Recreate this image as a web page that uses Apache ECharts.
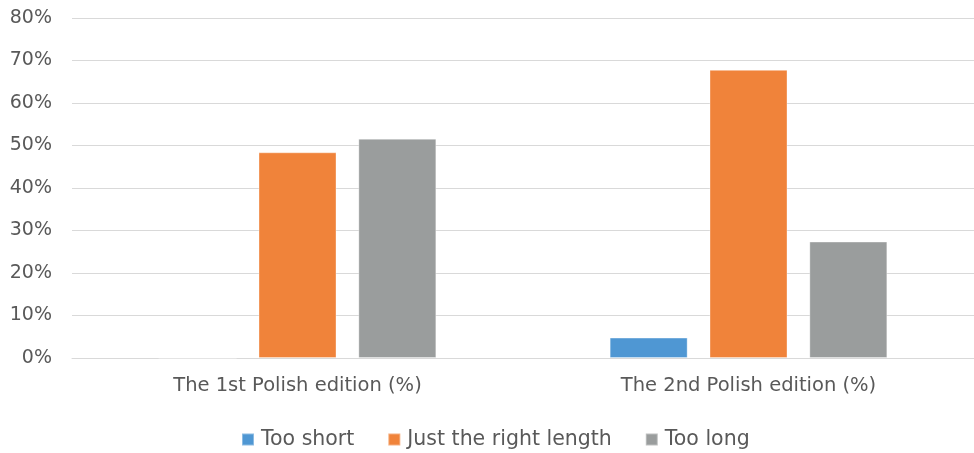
<!DOCTYPE html>
<html>
<head>
<meta charset="utf-8">
<script src="https://cdn.jsdelivr.net/npm/echarts@6/dist/echarts.min.js"></script>
<style>
  html, body { margin: 0; padding: 0; background: #fff; }
  #chart { width: 974px; height: 453px; }
</style>
</head>
<body>
<div id="chart"></div>
<script>
// Survey results: perceived length of each Polish edition
const categories = ['The 1st Polish edition (%)', 'The 2nd Polish edition (%)'];
const seriesNames = ['Too short', 'Just the right length', 'Too long'];
const tooShort = [0, 4.8];
const justRight = [48.4, 67.8];
const tooLong = [51.6, 27.4];
const yTicks = [0, 10, 20, 30, 40, 50, 60, 70, 80];

const colors = ['#4f97d3', '#f0833a', '#9a9d9d'];
const font = '"DejaVu Sans", sans-serif';
const textColor = '#595959';

const chart = echarts.init(document.getElementById('chart'), null, { renderer: 'canvas' });

const values = [tooShort, justRight, tooLong];

chart.setOption({
  animation: false,
  color: colors,
  grid: { left: 72, right: 0, top: 18, bottom: 95, containLabel: false },
  legend: {
    top: 424,
    left: 236,
    itemWidth: 12,
    itemHeight: 12,
    itemGap: 33,
    icon: 'rect',
    textStyle: { color: textColor, fontSize: 20.5, fontFamily: font, padding: [0, 0, 0, 2] },
    data: seriesNames
  },
  xAxis: {
    type: 'category',
    data: categories,
    axisTick: { show: false },
    axisLine: { lineStyle: { color: '#d9d9d9', width: 1 } },
    axisLabel: { color: textColor, fontSize: 19.5, fontFamily: font, margin: 18 }
  },
  yAxis: {
    type: 'value',
    min: yTicks[0],
    max: yTicks[yTicks.length - 1],
    interval: 10,
    axisLine: { show: false },
    axisTick: { show: false },
    splitLine: { lineStyle: { color: '#d9d9d9', width: 1 } },
    axisLabel: { color: textColor, fontSize: 19, fontFamily: font, margin: 20, formatter: '{value}%' }
  },
  series: seriesNames.map((name, i) => ({
    name: name,
    type: 'bar',
    data: values[i],
    barWidth: 78,
    barGap: '28%',
    itemStyle: { color: colors[i], borderColor: 'rgba(255,255,255,0.35)', borderWidth: 1 }
  }))
});
</script>
</body>
</html>
